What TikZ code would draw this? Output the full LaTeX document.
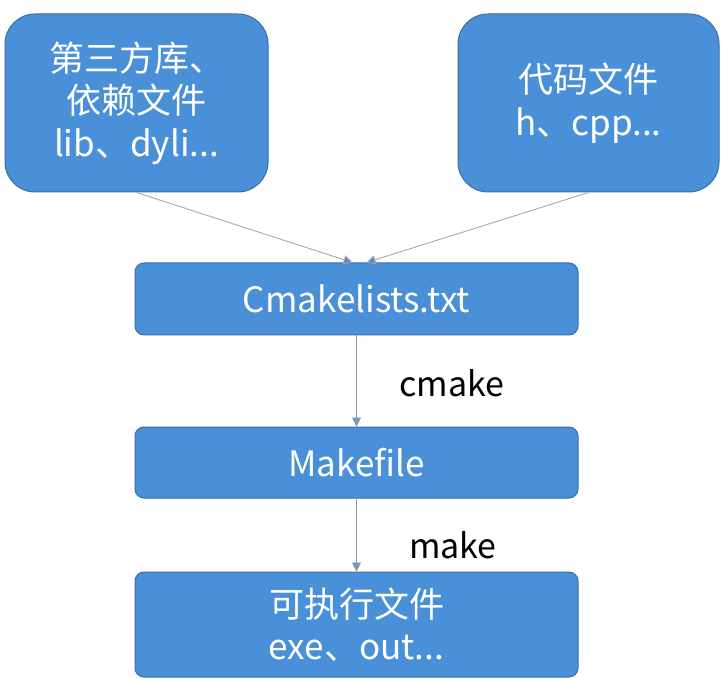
\documentclass[tikz,border=0pt]{standalone}
\usepackage{fontspec}
\setmainfont{Noto Sans CJK SC}
\usetikzlibrary{arrows.meta,calc}
\definecolor{boxfill}{HTML}{4A90D9}
\definecolor{boxline}{HTML}{3A6EA5}
\definecolor{grayline}{HTML}{A8A8A8}
\definecolor{blueline}{HTML}{7A98B8}
\begin{document}
\begin{tikzpicture}[x=1pt,y=-1pt,
  bluebox/.style={draw=boxline, line width=1pt, fill=boxfill, text=white, align=center,
    inner sep=0pt, font=\fontsize{35}{42.5}\selectfont},
  bigbox/.style={bluebox, rounded corners=30pt},
  flatbox/.style={bluebox, rounded corners=9pt},
  grayarrow/.style={draw=grayline, line width=0.9pt, -{Triangle[length=9pt,width=9pt,fill=boxfill]}},
  bluearrow/.style={draw=blueline, line width=0.9pt, -{Triangle[length=9pt,width=9pt]}},
  steplabel/.style={text=black, font=\fontsize{34}{40}\selectfont, anchor=center}]
\useasboundingbox (0,0) rectangle (725,684);
\node[bigbox, minimum width=263pt, minimum height=178pt] (lib) at (136.5,103) {第三方库、\\依赖文件\\lib、dyli...};
\node[bigbox, minimum width=261pt, minimum height=178pt] (src) at (588.5,103) {代码文件\\h、cpp...};
\node[flatbox, minimum width=443pt, minimum height=72pt] (cm) at (356.5,299) {Cmakelists.txt};
\node[flatbox, minimum width=443pt, minimum height=71pt] (mk) at (356.5,462.5) {Makefile};
\node[flatbox, minimum width=443pt, minimum height=105pt] (exe) at (356.5,624.5) {可执行文件\\exe、out...};
\coordinate (cmL) at ($(cm.north)+(-4,0)$);
\coordinate (cmR) at ($(cm.north)+(10,0)$);
\draw[grayarrow] (lib.south) -- (cmL);
\draw[grayarrow] (src.south) -- (cmR);
\draw[bluearrow] (cm.south) -- (mk.north);
\draw[bluearrow] (mk.south) -- (exe.north);
\node[steplabel] (l1) at (452,383) {cmake};
\node[steplabel] (l2) at (453,545) {make};
\end{tikzpicture}
\end{document}
